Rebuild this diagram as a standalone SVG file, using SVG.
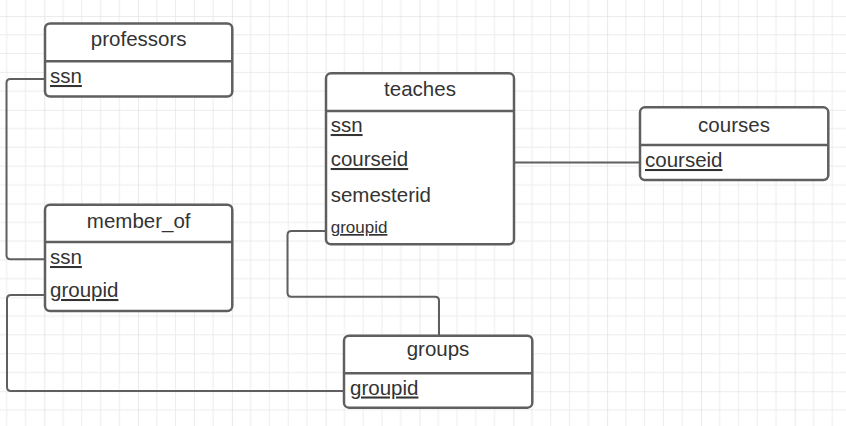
<svg xmlns="http://www.w3.org/2000/svg" width="846" height="426" viewBox="0 0 846 426">
  <defs>
    <pattern id="grid" patternUnits="userSpaceOnUse" x="44.3" y="16" width="93.8" height="93.8">
      <g stroke="#ececec" stroke-width="1">
        <line x1="18.76" y1="0" x2="18.76" y2="93.8"/>
        <line x1="37.52" y1="0" x2="37.52" y2="93.8"/>
        <line x1="56.28" y1="0" x2="56.28" y2="93.8"/>
        <line x1="75.04" y1="0" x2="75.04" y2="93.8"/>
        <line y1="18.76" x1="0" y2="18.76" x2="93.8"/>
        <line y1="37.52" x1="0" y2="37.52" x2="93.8"/>
        <line y1="56.28" x1="0" y2="56.28" x2="93.8"/>
        <line y1="75.04" x1="0" y2="75.04" x2="93.8"/>
      </g>
      <g stroke="#dadada" stroke-width="1.2">
        <line x1="0" y1="0" x2="0" y2="93.8"/>
        <line x1="0" y1="0" x2="93.8" y2="0"/>
      </g>
    </pattern>
  </defs>
  <style>
    .box { fill: #ffffff; stroke: #5f5f5f; stroke-width: 2.5; }
    .div { stroke: #5f5f5f; stroke-width: 2.5; }
    .conn { fill: none; stroke: #5f5f5f; stroke-width: 2; }
    text { font-family: "Liberation Sans", Arial, sans-serif; font-size: 20.5px; fill: #333333; }
    .title { text-anchor: middle; }
    .key { text-decoration: underline; }
    .small { font-size: 17px; }
  </style>
  <rect x="0" y="0" width="846" height="426" fill="#ffffff"/>
  <rect x="0" y="0" width="846" height="426" fill="url(#grid)"/>

  <g id="connectors">
    <path class="conn" d="M45,79 H10.5 Q6.5,79 6.5,83 V255.3 Q6.5,259.3 10.5,259.3 H45"/>
    <path class="conn" d="M45,295 H11 Q7,295 7,299 V387 Q7,391 11,391 H344"/>
    <path class="conn" d="M514,162.5 H640"/>
    <path class="conn" d="M326,231 H291.5 Q287.5,231 287.5,235 V292.7 Q287.5,296.7 291.5,296.7 H435 Q439,296.7 439,300.7 V335.7"/>
  </g>

  <g id="professors">
    <rect class="box" x="45" y="23.5" width="187.3" height="73" rx="5"/>
    <line class="div" x1="45" y1="61.3" x2="232.3" y2="61.3"/>
    <text class="title" x="138.7" y="46">professors</text>
    <text class="key" x="50" y="83">ssn</text>
  </g>

  <g id="member_of">
    <rect class="box" x="45" y="204.7" width="187.3" height="106.3" rx="5"/>
    <line class="div" x1="45" y1="242" x2="232.3" y2="242"/>
    <text class="title" x="138.7" y="227.5">member_of</text>
    <text class="key" x="50" y="264">ssn</text>
    <text class="key" x="50" y="297">groupid</text>
  </g>

  <g id="teaches">
    <rect class="box" x="326" y="73.3" width="188" height="171" rx="5"/>
    <line class="div" x1="326" y1="111" x2="514" y2="111"/>
    <text class="title" x="420" y="96">teaches</text>
    <text class="key" x="330.7" y="132">ssn</text>
    <text class="key" x="330.7" y="166">courseid</text>
    <text x="330.7" y="202">semesterid</text>
    <text class="key small" x="330.7" y="233">groupid</text>
  </g>

  <g id="courses">
    <rect class="box" x="640" y="107.3" width="188.3" height="72.7" rx="5"/>
    <line class="div" x1="640" y1="145" x2="828.3" y2="145"/>
    <text class="title" x="734" y="131.5">courses</text>
    <text class="key" x="645" y="167">courseid</text>
  </g>

  <g id="groups">
    <rect class="box" x="344" y="335.7" width="188.3" height="72" rx="5"/>
    <line class="div" x1="344" y1="373.3" x2="532.3" y2="373.3"/>
    <text class="title" x="438" y="356">groups</text>
    <text class="key" x="350" y="394.5">groupid</text>
  </g>
</svg>
